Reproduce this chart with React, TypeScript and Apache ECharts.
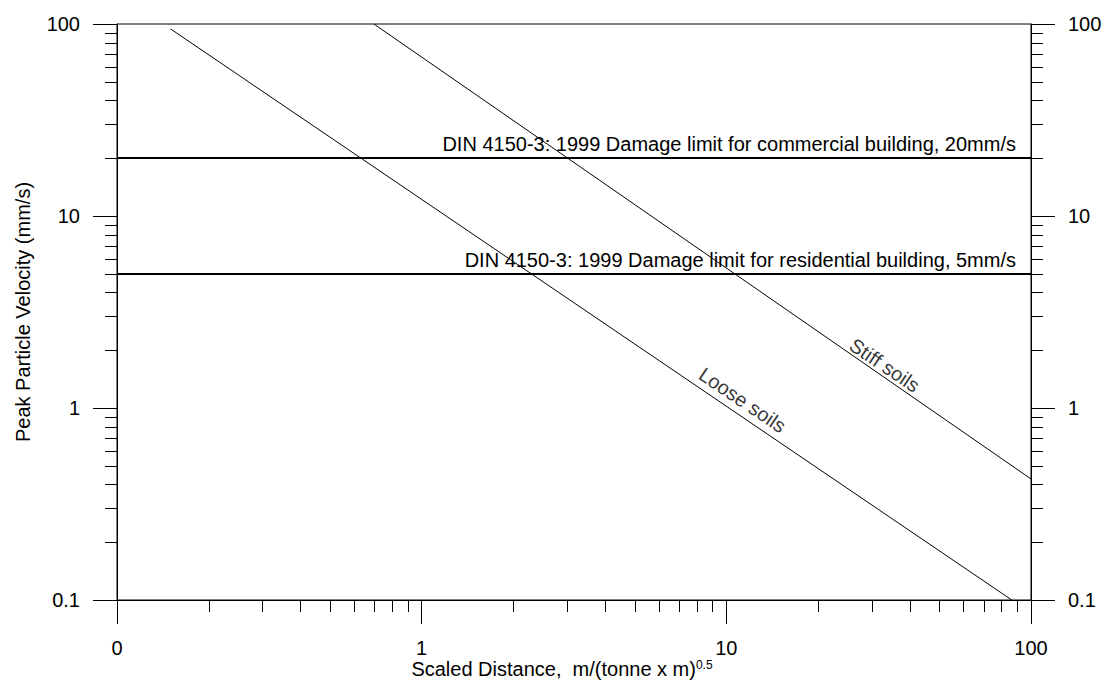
import React, { useEffect, useRef } from 'react';
import * as echarts from 'echarts';

const FONT = "'Liberation Sans', Arial, Helvetica, sans-serif";

// Axis ranges and tick labels
const axisMin = 0.1;
const axisMax = 100;
const decades = [0.1, 1, 10];
const minorMultipliers = [2, 3, 4, 5, 6, 7, 8, 9];

// Attenuation lines (scaled distance, PPV)
const looseSoils = [
  [0.15, 94.2],
  [86.5, 0.1],
];
const stiffSoils = [
  [0.697, 100],
  [100, 0.427],
];

// Damage limits
const limitCommercial = 20;
const limitResidential = 5;
const commercialLabel = 'DIN 4150-3: 1999 Damage limit for commercial building, 20mm/s';
const residentialLabel = 'DIN 4150-3: 1999 Damage limit for residential building, 5mm/s';

// Line labels (position in data units)
const soilLabelNames = ['Loose soils', 'Stiff soils'];
const soilLabelPositions = [
  [11.3, 1.1],
  [33.1, 1.67],
];

const xTitle = 'Scaled Distance,  m/(tonne x m)';
const xTitleSup = '0.5';
const yTitle = 'Peak Particle Velocity (mm/s)';

export default function App() {
  const ref = useRef<HTMLDivElement>(null);

  useEffect(() => {
    if (!ref.current) return;
    const chart = echarts.init(ref.current, undefined, { renderer: 'svg' });

    const minorData: number[][] = [];
    decades.forEach((d) => {
      minorMultipliers.forEach((m) => {
        const v = +(d * m).toPrecision(6);
        minorData.push([v, axisMin, 0]);
        minorData.push([axisMin, v, 1]);
      });
    });

    const black = '#000';
    const tickStyle = { color: black, width: 1 };
    const labelStyle = { color: black, fontSize: 20, fontFamily: FONT };

    const yAxisBase = (position: 'left' | 'right') => ({
      type: 'log' as const,
      logBase: 10,
      min: axisMin,
      max: axisMax,
      position,
      axisLine: { show: true, lineStyle: { color: black, width: 1 } },
      axisTick: { show: true, inside: false, length: 24, lineStyle: tickStyle },
      splitLine: { show: false },
      minorTick: { show: false },
      axisLabel: {
        ...labelStyle,
        margin: 37,
        formatter: (v: number) => (v < 1 ? '0.1' : String(Math.round(v))),
      },
    });

    const option: any = {
      animation: false,
      backgroundColor: '#fff',
      grid: {
        left: 117,
        right: 75,
        top: 24,
        bottom: 82,
        containLabel: false,
        outerBoundsMode: 'none',
        show: true,
        borderColor: black,
        borderWidth: 1,
        backgroundColor: 'transparent',
      },
      xAxis: {
        type: 'log',
        logBase: 10,
        min: axisMin,
        max: axisMax,
        axisLine: { show: true, lineStyle: { color: black, width: 1 } },
        axisTick: { show: true, inside: false, length: 24, lineStyle: tickStyle },
        splitLine: { show: false },
        minorTick: { show: false },
        axisLabel: {
          ...labelStyle,
          lineHeight: 16,
          margin: 40,
          formatter: (v: number) => (v < 1 ? '0' : String(Math.round(v))),
        },
        name: `{a|${xTitle}}{b|${xTitleSup}}`,
        nameLocation: 'middle',
        nameGap: 59,
        nameMoveOverlap: false,
        nameTextStyle: {
          padding: [0, 24, 0, 0],
          rich: {
            a: { fontSize: 20, fontFamily: FONT, color: black, lineHeight: 20 },
            b: { fontSize: 12, fontFamily: FONT, color: black, lineHeight: 12, padding: [0, 0, 8, 0] },
          },
        },
      },
      yAxis: [
        {
          ...yAxisBase('left'),
          name: yTitle,
          nameLocation: 'middle',
          nameGap: 84,
          nameMoveOverlap: false,
          nameTextStyle: { fontSize: 20, fontFamily: FONT, color: black },
        },
        { ...yAxisBase('right') },
      ],
      series: [
        {
          type: 'line',
          name: 'Loose soils',
          data: looseSoils,
          showSymbol: false,
          symbol: 'none',
          lineStyle: { color: black, width: 1 },
          silent: true,
          markLine: {
            silent: true,
            symbol: ['none', 'none'],
            lineStyle: { color: black, width: 2, type: 'solid' },
            label: {
              show: true,
              position: 'insideEndTop',
              distance: [15, 4],
              color: black,
              fontSize: 20,
              fontFamily: FONT,
            },
            data: [
              { yAxis: limitCommercial, label: { formatter: commercialLabel } },
              { yAxis: limitResidential, label: { formatter: residentialLabel } },
            ],
          },
        },
        {
          type: 'line',
          name: 'Stiff soils',
          data: stiffSoils,
          showSymbol: false,
          symbol: 'none',
          lineStyle: { color: black, width: 1 },
          silent: true,
        },
        {
          type: 'scatter',
          symbolSize: 0,
          silent: true,
          data: soilLabelNames.map((n, i) => ({ name: n, value: soilLabelPositions[i] })),
          label: {
            show: true,
            position: 'inside',
            formatter: '{b}',
            rotate: -34,
            color: black,
            fontSize: 20,
            fontFamily: FONT,
          },
        },
        {
          type: 'custom',
          silent: true,
          clip: false,
          data: minorData,
          encode: { x: 0, y: 1 },
          renderItem: (params: any, api: any) => {
            const cs = params.coordSys;
            const kind = api.value(2);
            const p = api.coord([api.value(0), api.value(1)]);
            const style = { stroke: black, lineWidth: 1 };
            if (kind === 0) {
              const yb = cs.y + cs.height;
              const x = Math.round(p[0]) + 0.5;
              return { type: 'line', shape: { x1: x, y1: yb, x2: x, y2: yb + 12 }, style };
            }
            const y = Math.round(p[1]) + 0.5;
            return {
              type: 'group',
              children: [
                { type: 'line', shape: { x1: cs.x - 12, y1: y, x2: cs.x, y2: y }, style },
                {
                  type: 'line',
                  shape: { x1: cs.x + cs.width, y1: y, x2: cs.x + cs.width + 12, y2: y },
                  style,
                },
              ],
            };
          },
        },
      ],
    };

    chart.setOption(option);
    return () => chart.dispose();
  }, []);

  return (
    <div
      ref={ref}
      style={{ position: 'fixed', left: 0, top: 0, width: 1106, height: 682, background: '#fff' }}
    />
  );
}
